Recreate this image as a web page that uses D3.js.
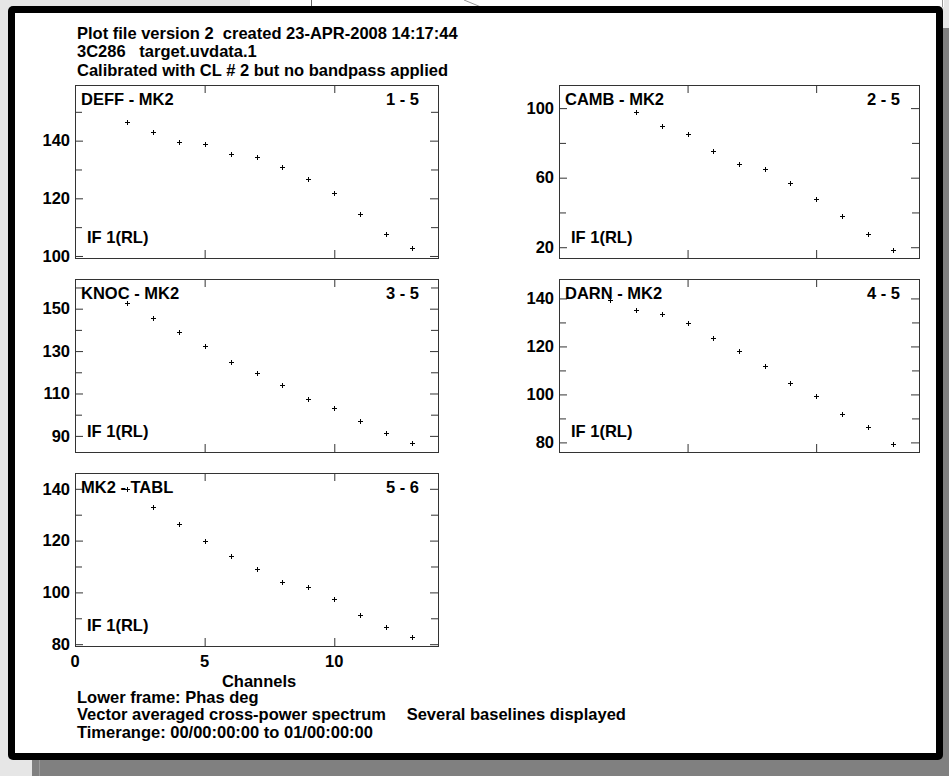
<!DOCTYPE html>
<html>
<head>
<meta charset="utf-8">
<script src="https://cdn.jsdelivr.net/npm/d3@7"></script>
<style>
  body { margin: 0; background: #e6e6e6; }
  svg { display: block; }
  text { font-family: "Liberation Sans", Arial, sans-serif; font-weight: bold; fill: #000; white-space: pre; }
</style>
</head>
<body>
<div id="chart"></div>
<script>
// channels shared by every baseline
const channels = [2, 3, 4, 5, 6, 7, 8, 9, 10, 11, 12, 13];

// phase (deg) per baseline, null = not plotted
const deffPhase = [146.4, 142.9, 139.5, 139.0, 135.3, 134.4, 130.9, 126.7, 121.7, 114.7, 107.7, 102.8];
const cambPhase = [null, 97.7, 89.8, 85.0, 75.1, 67.9, 65.1, 57.0, 47.6, 37.9, 27.5, 18.3];
const knocPhase = [152.6, 145.7, 139.0, 132.4, 124.7, 119.5, 113.9, 107.6, 103.2, 97.2, 91.3, 86.6];
const darnPhase = [139.5, 135.2, 133.4, 129.8, 123.4, 118.3, 112.0, 104.8, 99.2, 91.8, 86.3, 79.5];
const tablPhase = [140.0, 132.9, 126.5, 119.9, 114.1, 109.2, 104.2, 102.0, 97.5, 91.3, 86.6, 82.9];

const baselineNames = ['DEFF - MK2', 'CAMB - MK2', 'KNOC - MK2', 'DARN - MK2', 'MK2 - TABL'];
const baselinePairs = ['1 - 5', '2 - 5', '3 - 5', '4 - 5', '5 - 6'];

// y ranges and tick labels
const yDomains = [[99.3, 159.3], [13.8, 113.3], [82.4, 164], [76, 148.1], [79.3, 146.1]];
const yMajorTicks = [[100, 120, 140], [20, 60, 100], [90, 110, 130, 150], [80, 100, 120, 140], [80, 100, 120, 140]];
const yMinorTicks = [[110, 130, 150], [40, 80], [100, 120, 140, 160], [90, 110, 130], [90, 110, 130]];
const xDomain = [0, 14];
const xTicks = [5, 10];
const xTickLabels = [0, 5, 10];

const headerLines = [
  'Plot file version 2  created 23-APR-2008 14:17:44',
  '3C286   target.uvdata.1',
  'Calibrated with CL # 2 but no bandpass applied'
];
const footerLines = [
  'Lower frame: Phas deg',
  'Vector averaged cross-power spectrum',
  'Timerange: 00/00:00:00 to 01/00:00:00'
];

const series = [deffPhase, cambPhase, knocPhase, darnPhase, tablPhase];

const width = 949, height = 776;
const svg = d3.select('#chart').append('svg')
  .attr('width', width)
  .attr('height', height);

// background / window frame
svg.append('rect').attr('width', width).attr('height', height).attr('fill', '#e6e6e6');
svg.append('rect').attr('x', 250).attr('y', 0).attr('width', 694).attr('height', 7).attr('fill', '#fff');
svg.append('line').attr('x1', 311.5).attr('x2', 311.5).attr('y1', 0).attr('y2', 7).attr('stroke', '#666');
svg.append('line').attr('x1', 464).attr('x2', 481).attr('y1', 0).attr('y2', 7).attr('stroke', '#999');
svg.append('line').attr('x1', 942.5).attr('x2', 942.5).attr('y1', 0).attr('y2', 7).attr('stroke', '#999');
svg.append('rect').attr('x', 936).attr('y', 28).attr('width', 13).attr('height', 748).attr('fill', '#808080');
svg.append('rect').attr('x', 32).attr('y', 750).attr('width', 917).attr('height', 26).attr('fill', '#808080');
svg.append('line').attr('x1', 39.5).attr('x2', 39.5).attr('y1', 760).attr('y2', 776).attr('stroke', '#9a9a9a');
svg.append('rect').attr('x', 8).attr('y', 6).attr('width', 935).attr('height', 754).attr('rx', 5).attr('fill', '#000');
svg.append('rect').attr('x', 15).attr('y', 13).attr('width', 921).attr('height', 740).attr('fill', '#fff');

const fontSize = 16.5;

svg.selectAll('text.header')
  .data(headerLines)
  .enter()
  .append('text')
  .attr('class', 'header')
  .attr('x', 77)
  .attr('y', (d, i) => [39, 57, 76][i])
  .style('font-size', fontSize + 'px')
  .text(d => d);

// panel layout
const colX = [75, 559];
const colW = [363, 360];
const rowY = [85, 279, 473];
const panelH = 173;

series.forEach((values, i) => {
  const col = i % 2, row = Math.floor(i / 2);
  const x0 = colX[col], y0 = rowY[row], w = colW[col];
  const g = svg.append('g').attr('transform', `translate(${x0},${y0})`);

  const x = d3.scaleLinear().domain(xDomain).range([0, w]);
  const y = d3.scaleLinear().domain(yDomains[i]).range([panelH, 0]);
  const minor = yMinorTicks[i].filter(v => v > yDomains[i][0] && v < yDomains[i][1]);

  const style = sel => {
    sel.select('.domain').remove();
    sel.selectAll('line').attr('stroke', '#333');
    sel.selectAll('text').style('font-size', fontSize + 'px').attr('fill', '#000')
      .style('font-family', '"Liberation Sans", Arial, sans-serif').style('font-weight', 'bold');
  };

  g.append('g')
    .call(d3.axisLeft(y).tickValues(yMajorTicks[i]).tickSize(-8).tickPadding(5).tickFormat(d3.format('d')))
    .call(style);
  g.append('g')
    .call(d3.axisLeft(y).tickValues(minor).tickSize(-7).tickFormat(''))
    .call(style);
  g.append('g').attr('transform', `translate(${w},0)`)
    .call(d3.axisRight(y).tickValues(yMajorTicks[i]).tickSize(-8).tickFormat(''))
    .call(style);
  g.append('g').attr('transform', `translate(${w},0)`)
    .call(d3.axisRight(y).tickValues(minor).tickSize(-7).tickFormat(''))
    .call(style);
  g.append('g')
    .call(d3.axisTop(x).tickValues(xTicks).tickSize(-8).tickFormat(''))
    .call(style);
  g.append('g').attr('transform', `translate(0,${panelH})`)
    .call(d3.axisBottom(x).tickValues(xTicks).tickSize(-8).tickFormat(''))
    .call(style);

  g.append('rect')
    .attr('x', 0.5).attr('y', 0.5)
    .attr('width', w).attr('height', panelH)
    .attr('fill', 'none')
    .attr('stroke', '#333');

  // x tick labels only under the last panel
  if (i === series.length - 1) {
    g.selectAll('text.xlab')
      .data(xTickLabels)
      .enter()
      .append('text')
      .attr('class', 'xlab')
      .attr('x', d => x(d))
      .attr('y', panelH + 21)
      .attr('text-anchor', 'middle')
      .style('font-size', fontSize + 'px')
      .text(d => d);
    g.append('text')
      .attr('x', x(7.1))
      .attr('y', panelH + 41)
      .attr('text-anchor', 'middle')
      .style('font-size', fontSize + 'px')
      .text('Channels');
  }

  g.append('text').attr('x', 6).attr('y', 20).style('font-size', fontSize + 'px').text(baselineNames[i]);
  g.append('text').attr('x', w - 19).attr('y', 20).attr('text-anchor', 'end').style('font-size', fontSize + 'px').text(baselinePairs[i]);
  g.append('text').attr('x', 12).attr('y', panelH - 15).style('font-size', fontSize + 'px').text('IF 1(RL)');

  const pts = channels.map((c, k) => ({ c, v: values[k] })).filter(d => d.v != null);
  const arm = 2.5;
  g.selectAll('path.pt')
    .data(pts)
    .enter()
    .append('path')
    .attr('class', 'pt')
    .attr('d', d => {
      const px = Math.round(x(d.c)) + 0.5, py = Math.round(y(d.v)) + 0.5;
      return `M${px - arm},${py}H${px + arm}M${px},${py - arm}V${py + arm}`;
    })
    .attr('stroke', '#000')
    .attr('stroke-width', 1);
});

svg.selectAll('text.footer')
  .data(footerLines)
  .enter()
  .append('text')
  .attr('class', 'footer')
  .attr('x', 77)
  .attr('y', (d, i) => [703, 720, 737.5][i])
  .style('font-size', fontSize + 'px')
  .text(d => d);
svg.append('text')
  .attr('x', 406.7)
  .attr('y', 720)
  .style('font-size', fontSize + 'px')
  .text('Several baselines displayed');
</script>
</body>
</html>
